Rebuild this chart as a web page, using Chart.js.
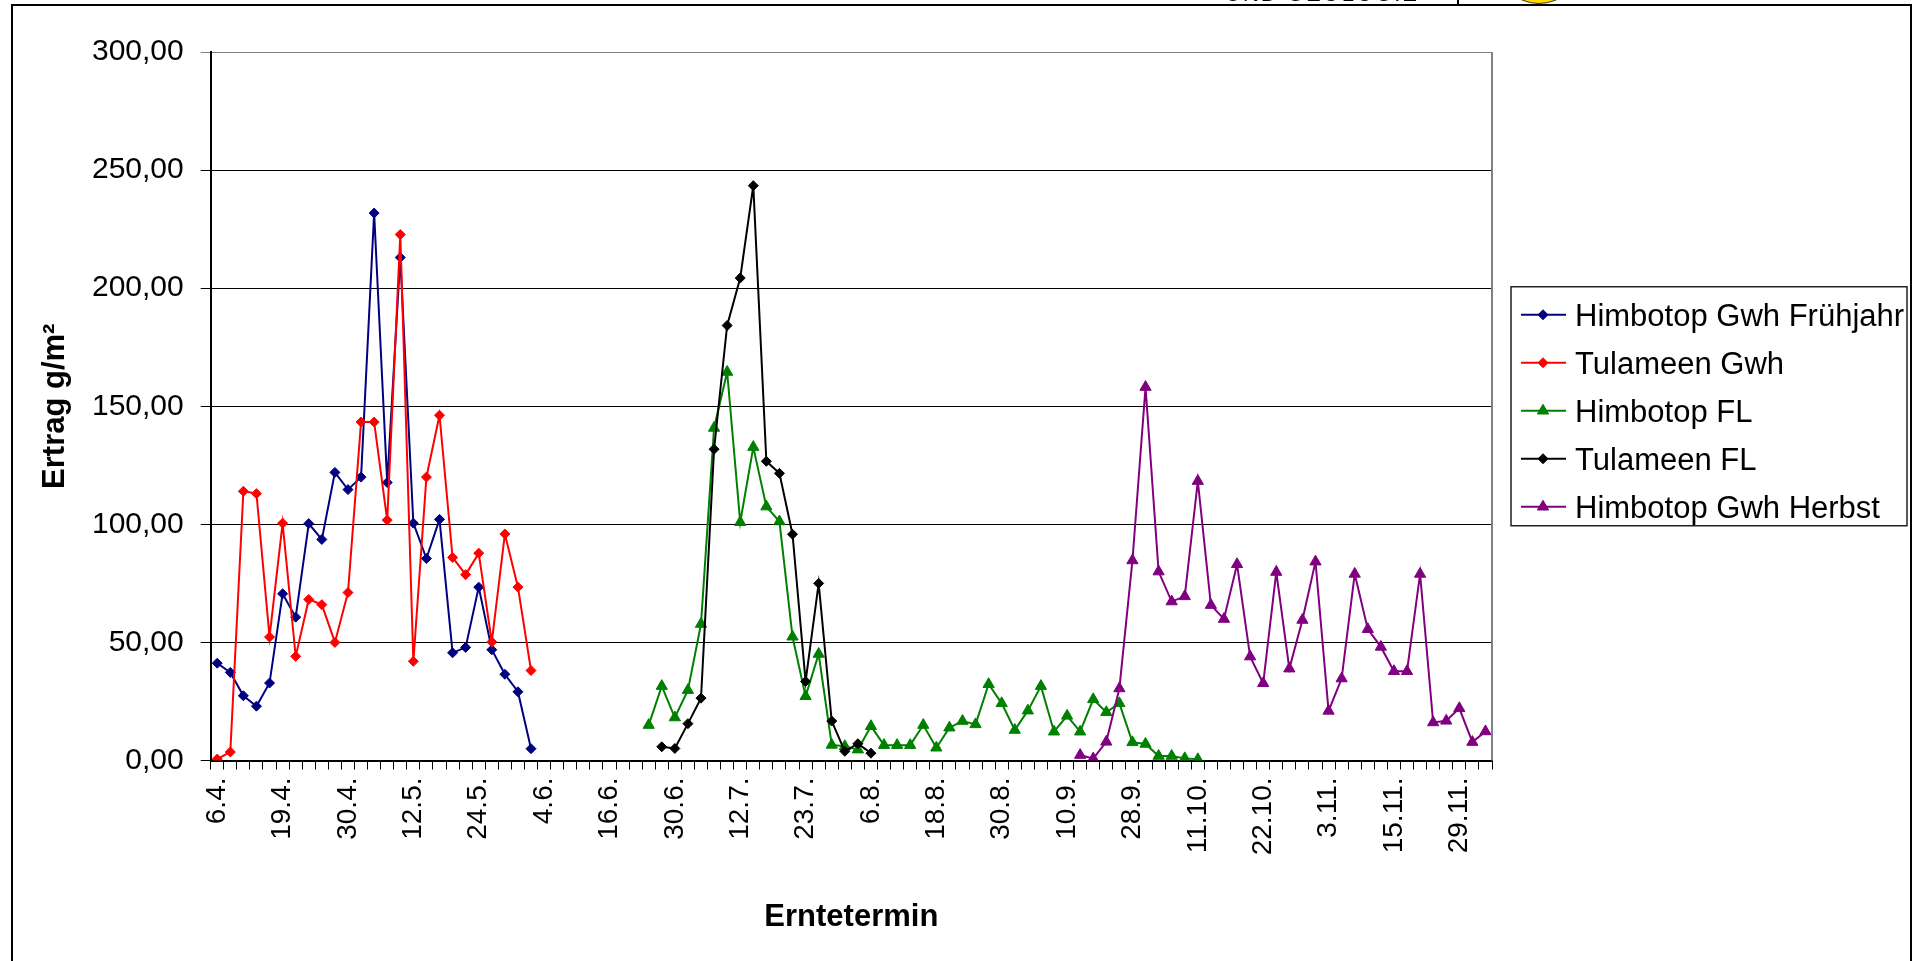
<!DOCTYPE html>
<html>
<head>
<meta charset="utf-8">
<script src="https://cdn.jsdelivr.net/npm/chart.js@4.4.0/dist/chart.umd.min.js"></script>
<style>
	html, body { margin: 0; padding: 0; background: #fff; overflow: hidden; }
	#wrap { position: relative; width: 1914px; height: 961px; overflow: hidden; }
	#chart { position: absolute; left: 0; top: 0; }
	#frame { position: absolute; left: 11px; top: 4px; width: 1901px; height: 1000px; border: 2px solid #000; box-sizing: border-box; pointer-events: none; }
	#logoText { position: absolute; left: 1225px; top: -17px; font: 22px "Liberation Sans", Arial, sans-serif; line-height: 22px; letter-spacing: 2px; color: #000; white-space: nowrap; }
	#logoBar { position: absolute; left: 1457px; top: 0; width: 2px; height: 5px; background: #000; }
	#logoSun { position: absolute; left: 1496px; top: -82px; width: 86px; height: 86px; border-radius: 50%; background: #ffd800; border: 1px solid #333; box-sizing: border-box; }
</style>
</head>
<body>
<div id="wrap">
	<canvas id="chart" width="1914" height="961"></canvas>
	<div id="logoText">UND GEOLOGIE</div>
	<div id="logoBar"></div>
	<div id="logoSun"></div>
	<div id="frame"></div>
</div>
<script>
// Erntetermine: only every 5th date is printed on the axis
const tickLabels = ["6.4.", "19.4.", "30.4.", "12.5.", "24.5.", "4.6.", "16.6.", "30.6.", "12.7.", "23.7.",
	"6.8.", "18.8.", "30.8.", "10.9.", "28.9.", "11.10.", "22.10.", "3.11.", "15.11.", "29.11."];
const nDates = 98;

// Ertrag g/m² per series, with the index of the first harvest date
const himbotopGwhFruehjahrStart = 0;
const himbotopGwhFruehjahr = [41.2, 37.3, 27.4, 23.0, 32.8, 70.6, 60.7, 100.3, 93.6, 122.0,
	114.7, 120.0, 231.8, 117.7, 213.0, 100.5, 85.5, 102.1, 45.6, 47.9,
	73.4, 46.9, 36.5, 29.1, 5.0];

const tulameenGwhStart = 0;
const tulameenGwh = [0.6, 3.6, 114.0, 113.0, 52.3, 100.5, 44.1, 68.2, 66.0, 50.0,
	71.1, 143.3, 143.3, 101.8, 222.7, 42.0, 120.0, 146.2, 86.0, 78.7,
	87.8, 50.2, 95.9, 73.4, 38.1];

const himbotopFLStart = 33;
const himbotopFL = [15.0, 31.5, 18.2, 29.8, 57.8, 140.8, 164.5, 100.9, 132.7, 107.5,
	101.2, 52.4, 27.2, 45.1, 6.6, 6.0, 4.6, 14.5, 6.5, 6.5,
	6.5, 15.0, 5.4, 13.9, 16.7, 15.3, 32.3, 24.2, 12.9, 21.1,
	31.5, 12.2, 18.9, 12.2, 25.9, 20.4, 24.2, 7.7, 7.0, 1.9,
	1.9, 0.9, 0.5];

const tulameenFLStart = 34;
const tulameenFL = [5.8, 5.1, 15.6, 26.4, 131.8, 184.2, 204.3, 243.4, 126.7, 121.6,
	95.8, 33.5, 75.0, 16.7, 3.9, 7.1, 3.1];

const himbotopGwhHerbstStart = 66;
const himbotopGwhHerbst = [2.3, 0.8, 7.9, 30.5, 84.7, 158.1, 80.0, 67.3, 69.5, 118.3,
	65.8, 59.9, 83.1, 44.0, 32.7, 79.8, 38.9, 59.5, 84.2, 21.0,
	34.7, 79.0, 55.6, 48.1, 37.8, 37.8, 79.0, 16.1, 16.8, 22.1,
	7.8, 12.3];

const labels = [];
for (let i = 0; i < nDates; i++) {
	labels.push(i % 5 === 0 ? tickLabels[i / 5] : "");
}

function place(start, values) {
	const out = new Array(nDates).fill(null);
	values.forEach((v, i) => { out[start + i] = v; });
	return out;
}

function series(label, color, style, radius, start, values, order) {
	return {
		label: label,
		data: place(start, values),
		borderColor: color,
		backgroundColor: color,
		pointBackgroundColor: color,
		pointBorderColor: color,
		pointStyle: style,
		pointRadius: radius,
		pointBorderWidth: 1,
		borderWidth: 2,
		tension: 0,
		order: order,
	};
}

const FONT = '"Liberation Sans", Arial, sans-serif';

// draw a legend marker the same way as the points
function marker(ctx, style, r, x, y) {
	ctx.beginPath();
	if (style === "triangle") {
		ctx.moveTo(x, y - r);
		ctx.lineTo(x + r * 0.866, y + r / 2);
		ctx.lineTo(x - r * 0.866, y + r / 2);
	} else {
		ctx.moveTo(x, y - r);
		ctx.lineTo(x + r, y);
		ctx.lineTo(x, y + r);
		ctx.lineTo(x - r, y);
	}
	ctx.closePath();
	ctx.fill();
	ctx.stroke();
}

const boxLegend = {
	id: "boxLegend",
	afterDraw: (chart) => {
		const { ctx, chartArea } = chart;
		const w = 396, h = 239;
		const left = chartArea.right + 19;
		const top = (chartArea.top + chartArea.bottom) / 2 - h / 2;
		ctx.save();
		// plot area right border
		ctx.strokeStyle = "#808080";
		ctx.lineWidth = 2;
		ctx.beginPath();
		ctx.moveTo(chartArea.right, chartArea.top);
		ctx.lineTo(chartArea.right, chartArea.bottom);
		ctx.stroke();

		ctx.strokeStyle = "#222";
		ctx.lineWidth = 1.5;
		ctx.strokeRect(left, top, w, h);
		chart.data.datasets.forEach((ds, i) => {
			const y = top + 28 + i * 48;
			ctx.strokeStyle = ds.borderColor;
			ctx.fillStyle = ds.backgroundColor;
			ctx.lineWidth = 2;
			ctx.beginPath();
			ctx.moveTo(left + 10, y);
			ctx.lineTo(left + 55, y);
			ctx.stroke();
			ctx.lineWidth = 1;
			marker(ctx, ds.pointStyle, ds.pointRadius, left + 32, y);
			ctx.fillStyle = "#000";
			ctx.font = "31px " + FONT;
			ctx.textBaseline = "alphabetic";
			ctx.textAlign = "left";
			ctx.fillText(ds.label, left + 64, y + 11);
		});
		ctx.restore();
	},
};

const ctx = document.getElementById("chart");
new Chart(ctx, {
	type: "line",
	data: {
		labels: labels,
		datasets: [
			series("Himbotop Gwh Frühjahr", "#000080", "rectRot", 5, himbotopGwhFruehjahrStart, himbotopGwhFruehjahr, 5),
			series("Tulameen Gwh", "#ff0000", "rectRot", 5, tulameenGwhStart, tulameenGwh, 4),
			series("Himbotop FL", "#008000", "triangle", 6.5, himbotopFLStart, himbotopFL, 3),
			series("Tulameen FL", "#000000", "rectRot", 5, tulameenFLStart, tulameenFL, 2),
			series("Himbotop Gwh Herbst", "#800080", "triangle", 6.5, himbotopGwhHerbstStart, himbotopGwhHerbst, 1),
		],
	},
	options: {
		responsive: false,
		animation: false,
		layout: {
			padding: { top: 52, right: 422, left: 0, bottom: 0 },
		},
		plugins: {
			legend: { display: false },
			tooltip: { enabled: false },
		},
		scales: {
			x: {
				offset: true,
				grid: {
					offset: true,
					drawOnChartArea: false,
					color: "#000",
					tickLength: 9,
					lineWidth: 1,
				},
				border: { color: "#000", width: 2 },
				ticks: {
					autoSkip: false,
					maxRotation: 90,
					minRotation: 90,
					padding: 8,
					color: "#000",
					font: { family: FONT, size: 28 },
				},
				title: {
					display: true,
					text: "Erntetermin",
					color: "#000",
					font: { family: FONT, size: 31, weight: "bold" },
					padding: { top: 0, bottom: 25 },
				},
				afterFit: (scale) => {
					scale.height = 200.5;
				},
			},
			y: {
				min: 0,
				max: 300,
				grid: {
					color: (c) => (c.tick && c.tick.value === 300 ? "#808080" : "#000"),
					tickLength: 10,
					lineWidth: 1,
				},
				border: { color: "#000", width: 2 },
				ticks: {
					stepSize: 50,
					padding: 17,
					color: "#000",
					font: { family: FONT, size: 30 },
					callback: (v) => v.toFixed(2).replace(".", ","),
				},
				title: {
					display: true,
					text: "Ertrag g/m²",
					color: "#000",
					font: { family: FONT, size: 31, weight: "bold" },
					padding: { top: 37, bottom: 0 },
				},
				afterFit: (scale) => {
					scale.width = 210.7;
				},
			},
		},
	},
	plugins: [boxLegend],
});
</script>
</body>
</html>
